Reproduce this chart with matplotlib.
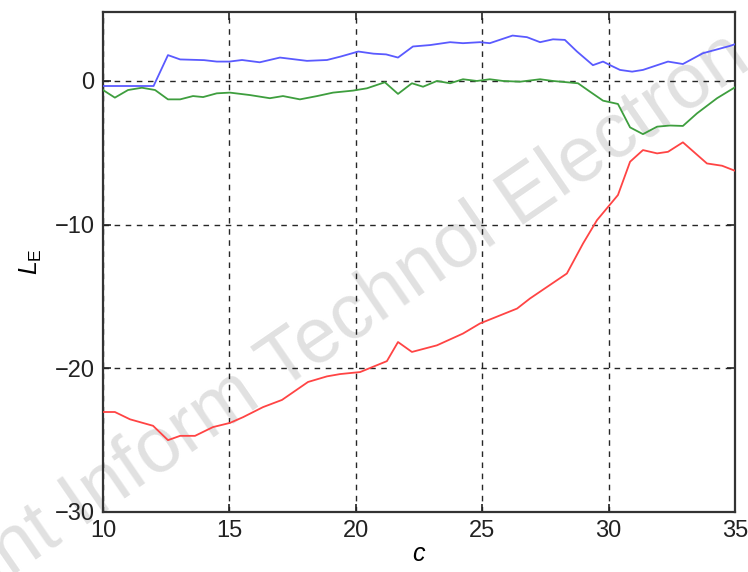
import numpy as np
import matplotlib
matplotlib.use("Agg")
import matplotlib.pyplot as plt

plt.rcParams['font.family'] = ['Liberation Sans', 'DejaVu Sans']
plt.rcParams['mathtext.fontset'] = 'custom'
plt.rcParams['mathtext.rm'] = 'Liberation Sans'
plt.rcParams['mathtext.it'] = 'Liberation Sans:italic'

# Series data
blue_x = [10.0, 11.0, 12.0, 12.57, 13.05, 14.0, 14.5, 15.0, 15.5, 16.2, 17.0, 18.07,
          18.86, 19.4, 20.1, 20.7, 21.2, 21.67, 22.26, 22.94, 23.73, 24.24, 24.91,
          25.3, 26.2, 26.77, 27.29, 27.8, 28.27, 28.75, 29.38, 29.78, 30.06, 30.45,
          30.93, 31.36, 32.35, 32.94, 33.73, 34.8, 35.0]
blue_y = [-0.35, -0.35, -0.35, 1.8, 1.5, 1.45, 1.35, 1.35, 1.46, 1.3, 1.63, 1.4,
          1.46, 1.7, 2.05, 1.9, 1.85, 1.63, 2.4, 2.5, 2.7, 2.63, 2.7,
          2.63, 3.16, 3.05, 2.7, 2.9, 2.86, 2.05, 1.1, 1.35, 1.1, 0.77,
          0.65, 0.77, 1.35, 1.18, 1.93, 2.44, 2.56]

green_x = [10.0, 10.47, 10.99, 11.54, 12.06, 12.57, 13.05, 13.56, 13.96, 14.5, 15.02,
           15.81, 16.6, 17.12, 17.79, 18.47, 19.1, 19.89, 20.44, 21.15, 21.67, 22.22,
           22.66, 23.21, 23.73, 24.24, 24.79, 25.3, 25.82, 26.5, 27.29, 27.8, 28.79,
           29.26, 29.78, 30.37, 30.85, 31.36, 31.92, 32.43, 32.94, 33.5, 34.29, 35.0]
green_y = [-0.63, -1.16, -0.63, -0.47, -0.63, -1.28, -1.28, -1.05, -1.12, -0.86, -0.81,
           -0.98, -1.2, -1.05, -1.28, -1.05, -0.81, -0.67, -0.51, -0.09, -0.9, -0.16,
           -0.4, 0.0, -0.16, 0.12, 0.0, 0.12, 0.0, -0.05, 0.12, 0.0, -0.16,
           -0.74, -1.37, -1.6, -3.23, -3.7, -3.18, -3.1, -3.13, -2.25, -1.2, -0.44]

red_x = [10.0, 10.47, 11.07, 11.98, 12.57, 13.05, 13.64, 14.35, 15.02, 15.54, 16.33,
         17.08, 18.11, 18.86, 19.38, 20.17, 21.23, 21.67, 22.22, 23.21, 24.24, 24.91,
         26.38, 26.89, 28.35, 28.99, 29.54, 30.37, 30.85, 31.36, 31.92, 32.35, 32.94,
         33.89, 34.49, 35.0]
red_y = [-23.04, -23.04, -23.55, -24.0, -25.0, -24.7, -24.7, -24.09, -23.8, -23.4, -22.7,
         -22.2, -20.95, -20.56, -20.4, -20.26, -19.5, -18.17, -18.86, -18.4, -17.58, -16.88,
         -15.84, -15.14, -13.4, -11.31, -9.69, -7.94, -5.62, -4.81, -5.04, -4.93, -4.27,
         -5.74, -5.9, -6.25]

x_ticks = [10, 15, 20, 25, 30, 35]
y_ticks = [-30, -20, -10, 0]

W, H, DPI = 748, 572, 100
fig = plt.figure(figsize=(W / DPI, H / DPI), dpi=DPI)
ax = fig.add_axes([0.1377, 0.1049, 0.8449, 0.8741])

ax.plot(blue_x, blue_y, color='#5a5aff', lw=1.3, zorder=3)
ax.plot(green_x, green_y, color='#3e9e3e', lw=1.3, zorder=3)
ax.plot(red_x, red_y, color='#ff4444', lw=1.3, zorder=3)

ax.set_xlim(10, 35)
ax.set_ylim(-30, 4.8)
ax.set_xticks(x_ticks)
ax.set_yticks(y_ticks)
ax.grid(True, color='black', linestyle=(0, (4, 4)), linewidth=1.0, alpha=0.85)
ax.tick_params(direction='in', length=6, width=1.2, labelsize=17,
               top=True, right=True, colors='#222222', pad=6)
for s in ax.spines.values():
    s.set_linewidth(1.6)
    s.set_color('#333333')

ax.set_xlabel('$c$', fontsize=18, labelpad=0)
ax.set_ylabel(r'$L_{\mathrm{E}}$', fontsize=18, labelpad=8)

# Journal watermark running diagonally across the figure
wm_prefix = 'Front Inform Technol '
wm_text = wm_prefix + 'Electron'
wm_size = 56
wm_angle = 34.5
renderer = fig.canvas.get_renderer()
probe = fig.text(0, 0, wm_prefix.replace(' ', '\u00a0'), fontsize=wm_size)
prefix_w = probe.get_window_extent(renderer).width
probe.remove()
ex, ey = 520.0, H - 227.0  # baseline start of "Electron", in pixels
th = np.deg2rad(wm_angle)
sx = ex - prefix_w * np.cos(th)
sy = ey - prefix_w * np.sin(th)
ax.text(sx / W, sy / H, wm_text, transform=fig.transFigure, fontsize=wm_size,
        color='#e1e1e1', rotation=wm_angle, rotation_mode='anchor',
        ha='left', va='baseline', zorder=1, clip_on=False)

fig.savefig('out.png', dpi=DPI)
